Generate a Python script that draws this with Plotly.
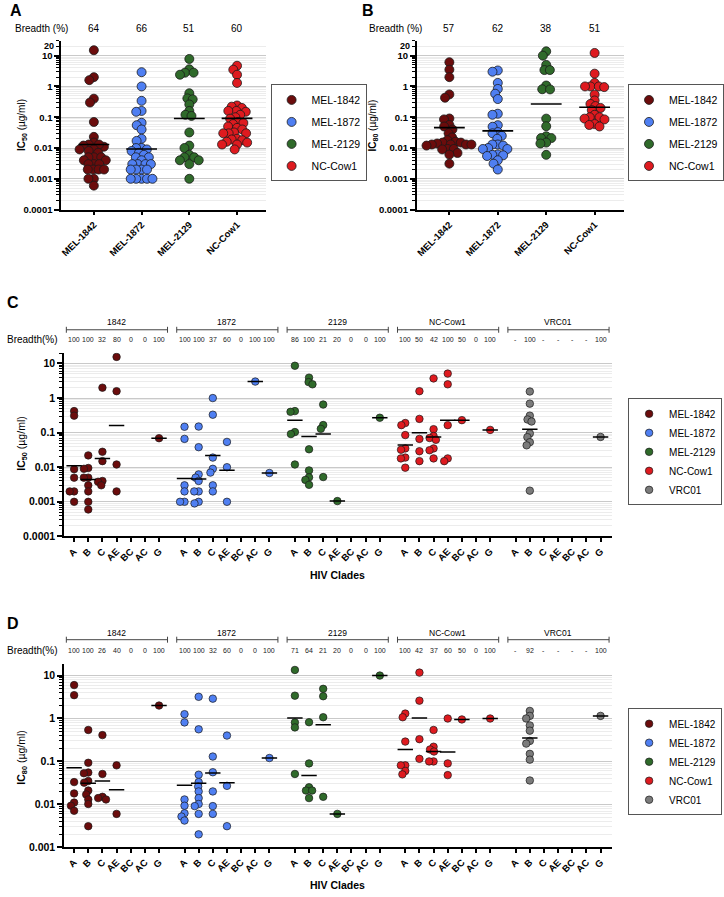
import math
import plotly.graph_objects as go

W, H = 724, 897
FONT = "Liberation Sans, Arial, Helvetica, sans-serif"

# ---------------- data ----------------
ANTIBODIES = ["MEL-1842", "MEL-1872", "MEL-2129", "NC-Cow1"]
ANTIBODIES_CD = ["MEL-1842", "MEL-1872", "MEL-2129", "NC-Cow1", "VRC01"]
GROUP_LABELS = ["1842", "1872", "2129", "NC-Cow1", "VRC01"]
CLADES = ["A", "B", "C", "AE", "BC", "AC", "G"]
COLORS = {"MEL-1842": "#6b0c0c", "MEL-1872": "#4f7ff2", "MEL-2129": "#2f6a2a",
          "NC-Cow1": "#de1a1f", "VRC01": "#7b7b7b"}

BREADTH_A = [64, 66, 51, 60]
BREADTH_B = [57, 62, 38, 51]

# Panel A: IC50 per antibody
A_MEL1842 = [15, 2.0, 1.6, 0.4, 0.3, 0.07, 0.023, 0.015, 0.013, 0.012, 0.011, 0.013, 0.009, 0.008,
             0.009, 0.007, 0.005, 0.005, 0.005, 0.004, 0.004, 0.003, 0.003, 0.003, 0.002, 0.002,
             0.002, 0.002, 0.001, 0.001, 0.0006]
A_MEL1872 = [2.9, 1.0, 0.34, 0.16, 0.15, 0.066, 0.055, 0.04, 0.02, 0.017, 0.01, 0.01, 0.009, 0.008,
             0.007, 0.006, 0.005, 0.005, 0.004, 0.003, 0.003, 0.003, 0.003, 0.002, 0.002, 0.002,
             0.002, 0.001, 0.001, 0.001, 0.001, 0.001]
A_MEL2129 = [7.8, 3.6, 2.8, 2.8, 2.4, 0.6, 0.41, 0.38, 0.26, 0.16, 0.12, 0.11, 0.032, 0.012, 0.01,
             0.006, 0.005, 0.005, 0.004, 0.004, 0.003, 0.001]
A_NCCOW1 = [4.7, 3.5, 2.4, 1.3, 0.24, 0.22, 0.2, 0.16, 0.16, 0.15, 0.12, 0.1, 0.09, 0.07, 0.065,
            0.06, 0.05, 0.045, 0.04, 0.032, 0.03, 0.03, 0.03, 0.02, 0.019, 0.018, 0.016, 0.015,
            0.013, 0.013, 0.009]
A_MEDIANS = [0.013, 0.0093, 0.091, 0.092]

# Panel B: IC80 per antibody
B_MEL1842 = [6.1, 3.5, 2.0, 0.55, 0.43, 0.091, 0.085, 0.056, 0.05, 0.04, 0.03, 0.022, 0.018, 0.016,
             0.015, 0.015, 0.014, 0.013, 0.013, 0.013, 0.013, 0.012, 0.0093, 0.0093, 0.009, 0.0069,
             0.0061, 0.0031]
B_MEL1872 = [3.3, 3.0, 1.3, 0.83, 0.58, 0.39, 0.13, 0.12, 0.055, 0.049, 0.033, 0.03, 0.025, 0.02,
             0.013, 0.013, 0.012, 0.01, 0.0093, 0.0093, 0.0062, 0.006, 0.0058, 0.0055, 0.004,
             0.0031, 0.002]
B_MEL2129 = [13.8, 10, 5.0, 3.4, 3.4, 1.07, 0.81, 0.8, 0.09, 0.051, 0.024, 0.021, 0.021, 0.015,
             0.014, 0.006]
B_NCCOW1 = [12.2, 2.6, 1.3, 1.0, 1.0, 1.0, 0.95, 0.54, 0.35, 0.27, 0.23, 0.2, 0.17, 0.12, 0.1, 0.1,
            0.09, 0.085, 0.06, 0.056, 0.05]
B_MEDIANS = [0.046, 0.036, 0.27, 0.21]

# Panel C: IC50 by clade
C_MEL1842 = {"A": [0.42, 0.31, 0.0088, 0.005, 0.002, 0.002, 0.001],
             "B": [0.022, 0.0095, 0.009, 0.005, 0.005, 0.003, 0.002, 0.001, 0.0006],
             "C": [2.0, 0.028, 0.015, 0.004, 0.0038, 0.003],
             "AE": [15.5, 1.58, 0.012, 0.002], "BC": [], "AC": [], "G": [0.069]}
C_MEL1872 = {"A": [0.148, 0.066, 0.003, 0.002, 0.001, 0.001],
             "B": [0.15, 0.038, 0.0062, 0.005, 0.004, 0.002, 0.002, 0.001, 0.0009],
             "C": [1.0, 0.33, 0.019, 0.009, 0.007, 0.003, 0.002],
             "AE": [0.054, 0.01, 0.001], "BC": [], "AC": [3.0], "G": [0.0068]}
C_MEL2129 = {"A": [8.6, 0.42, 0.40, 0.104, 0.091, 0.012],
             "B": [3.9, 2.9, 2.5, 0.033, 0.0081, 0.0051, 0.0043, 0.0031],
             "C": [0.65, 0.166, 0.129, 0.0052],
             "AE": [0.00105], "BC": [], "AC": [], "G": [0.27]}
C_NCCOW1 = {"A": [0.19, 0.165, 0.085, 0.035, 0.032, 0.019, 0.018, 0.0097],
            "B": [1.58, 0.25, 0.066, 0.029, 0.015],
            "C": [3.7, 0.126, 0.08, 0.07, 0.062, 0.035, 0.031, 0.018],
            "AE": [5.1, 2.5, 0.165, 0.018, 0.015], "BC": [0.23], "AC": [], "G": [0.12]}
C_VRC01 = {"A": [], "B": [1.55, 0.69, 0.31, 0.24, 0.21, 0.095, 0.074, 0.053, 0.043, 0.0021],
           "C": [], "AE": [], "BC": [], "AC": [], "G": [0.075]}
C_MED_MEL1842 = {"A": 0.011, "B": 0.0044, "C": 0.018, "AE": 0.16, "G": 0.069}
C_MED_MEL1872 = {"A": 0.0047, "B": 0.0046, "C": 0.022, "AE": 0.0082, "AC": 3.0, "G": 0.0068}
C_MED_MEL2129 = {"A": 0.23, "B": 0.077, "C": 0.091, "AE": 0.00105, "G": 0.27}
C_MED_NCCOW1 = {"A": 0.044, "B": 0.10, "C": 0.075, "AE": 0.23, "BC": 0.23, "G": 0.12}
C_MED_VRC01 = {"B": 0.126, "G": 0.075}
C_BREADTH_1842 = ["100", "100", "32", "80", "0", "0", "100"]
C_BREADTH_1872 = ["100", "100", "37", "60", "0", "100", "100"]
C_BREADTH_2129 = ["86", "100", "21", "20", "0", "0", "100"]
C_BREADTH_NCCOW1 = ["100", "50", "42", "100", "50", "0", "100"]
C_BREADTH_VRC01 = ["-", "100", "-", "-", "-", "-", "100"]

# Panel D: IC80 by clade
D_MEL1842 = {"A": [6.0, 3.5, 0.033, 0.018, 0.011, 0.0093, 0.0071],
             "B": [0.54, 0.093, 0.055, 0.053, 0.035, 0.032, 0.021, 0.017, 0.013, 0.0102, 0.0031],
             "C": [0.41, 0.051, 0.015, 0.014, 0.013],
             "AE": [0.081, 0.006], "BC": [], "AC": [], "G": [2.0]}
D_MEL1872 = {"A": [1.26, 0.81, 0.013, 0.0093, 0.0062, 0.0052, 0.0042],
             "B": [3.2, 0.56, 0.049, 0.033, 0.026, 0.02, 0.014, 0.0102, 0.0091, 0.006, 0.002],
             "C": [2.9, 0.13, 0.056, 0.02, 0.0091, 0.006],
             "AE": [0.4, 0.027, 0.0031], "BC": [], "AC": [], "G": [0.12]}
D_MEL2129 = {"A": [13.5, 3.4, 0.81, 0.62, 0.051],
             "B": [0.82, 0.09, 0.025, 0.021, 0.021, 0.014],
             "C": [4.9, 3.3, 1.07, 0.015],
             "AE": [0.006], "BC": [], "AC": [], "G": [10.0]}
D_NCCOW1 = {"A": [1.3, 1.07, 0.29, 0.081, 0.081, 0.06, 0.05],
            "B": [11.7, 2.6, 0.33, 0.115],
            "C": [0.54, 0.22, 0.19, 0.17, 0.10, 0.10],
            "AE": [1.0, 0.09, 0.048], "BC": [0.95], "AC": [], "G": [1.0]}
D_VRC01 = {"A": [], "B": [1.5, 1.15, 1.0, 0.69, 0.52, 0.30, 0.26, 0.15, 0.11, 0.036],
           "C": [], "AE": [], "BC": [], "AC": [], "G": [1.15]}
D_MED_MEL1842 = {"A": 0.071, "B": 0.031, "C": 0.035, "AE": 0.022, "G": 2.0}
D_MED_MEL1872 = {"A": 0.028, "B": 0.031, "C": 0.054, "AE": 0.032, "G": 0.12}
D_MED_MEL2129 = {"A": 1.03, "B": 0.047, "C": 0.71, "AE": 0.006, "G": 10.0}
D_MED_NCCOW1 = {"A": 0.19, "B": 1.03, "C": 0.17, "AE": 0.165, "BC": 0.95, "G": 1.0}
D_MED_VRC01 = {"B": 0.35, "G": 1.15}
D_BREADTH_1842 = ["100", "100", "26", "40", "0", "0", "100"]
D_BREADTH_1872 = ["100", "100", "32", "60", "0", "0", "100"]
D_BREADTH_2129 = ["71", "64", "21", "20", "0", "0", "100"]
D_BREADTH_NCCOW1 = ["100", "42", "37", "60", "50", "0", "100"]
D_BREADTH_VRC01 = ["-", "92", "-", "-", "-", "-", "100"]

# ---------------- layout helpers ----------------
def px(x):
    return x / W


def py(y):
    return 1 - y / H


def swarm(vals, pxdec, pxunit, diam):
    """Beeswarm x-offsets (in data units) for values on a log axis."""
    ys = [math.log10(v) * pxdec for v in vals]
    order = sorted(range(len(vals)), key=lambda i: -ys[i])
    placed = []
    xs = [0.0] * len(vals)
    for i in order:
        y = ys[i]
        cands = [0.0]
        for (qx, qy) in placed:
            dy = abs(qy - y)
            if dy < diam:
                dx = math.sqrt(diam ** 2 - dy ** 2)
                cands += [qx + dx, qx - dx]
        cands.sort(key=lambda c: (round(abs(c), 6), c))
        for c in cands:
            if all((c - qx) ** 2 + (y - qy) ** 2 >= diam ** 2 - 1e-6 for qx, qy in placed):
                xs[i] = c
                break
        placed.append((xs[i], y))
    return [x / pxunit for x in xs]


def minor_vals(lo, hi):
    out = []
    for e in range(lo, hi + 1):
        for m in range(2, 10):
            out.append(m * 10 ** e)
    return out


fig = go.Figure()
annotations = []
shapes = []

MAJOR_GRID = "#c9c9c9"
MINOR_GRID = "#ececec"


def yaxis_cfg(domain, rng, tickvals, ticktext, tfs):
    return dict(type="log", domain=domain, range=rng, tickmode="array", tickvals=tickvals,
                ticktext=["<b>%s</b>" % t for t in ticktext], tickfont=dict(size=tfs, family=FONT, color="black"),
                showline=True, linecolor="black", linewidth=1.8, ticks="outside", ticklen=5, tickwidth=1.5,
                tickcolor="black", showgrid=True, gridcolor=MAJOR_GRID, gridwidth=1.4, zeroline=False,
                minor=dict(tickmode="array", tickvals=minor_vals(-4, 1), ticks="outside", ticklen=3,
                           tickwidth=1, tickcolor="black", showgrid=True, gridcolor=MINOR_GRID, gridwidth=0.6),
                fixedrange=True)


def xaxis_cfg(domain, rng, tickvals, ticktext, anchor, tfs):
    return dict(domain=domain, range=rng, tickmode="array", tickvals=tickvals,
                ticktext=["<b>%s</b>" % t for t in ticktext], tickangle=-45,
                tickfont=dict(size=tfs, family=FONT, color="black"), showline=True, linecolor="black",
                linewidth=1.8, ticks="outside", ticklen=4, tickwidth=1.5, tickcolor="black", showgrid=False,
                zeroline=False, anchor=anchor, fixedrange=True)


# ---------------- panels A and B ----------------
def panel_ab(series, medians, xa, ya, legend, pxunit):
    for i, (name, vals) in enumerate(zip(ANTIBODIES, series)):
        offs = swarm(vals, 31.0, pxunit, 5.5)
        fig.add_trace(go.Scatter(
            x=[i + o for o in offs], y=vals, mode="markers", name=name, xaxis=xa, yaxis=ya,
            legend=legend, legendgroup=legend + name,
            marker=dict(size=9, color=COLORS[name], line=dict(color="#1a1a1a", width=0.8))))
    fig.add_trace(go.Scatter(
        x=list(range(len(medians))), y=medians, mode="markers", xaxis=xa, yaxis=ya, showlegend=False,
        marker=dict(symbol="line-ew", size=22, color="black", line=dict(color="black", width=1.6))))


panel_ab([A_MEL1842, A_MEL1872, A_MEL2129, A_NCCOW1], A_MEDIANS, "x", "y", "legend", 48.3)
panel_ab([B_MEL1842, B_MEL1872, B_MEL2129, B_NCCOW1], B_MEDIANS, "x2", "y2", "legend2", 49.0)

AB_TICKS = [0.0001, 0.001, 0.01, 0.1, 1, 10]
AB_TEXT = ["0.0001", "0.001", "0.01", "0.1", "1", "10"]
ydomAB = [py(211), py(41)]
layout = dict(
    xaxis=xaxis_cfg([px(60), px(267)], [-0.683, 3.6], [0, 1, 2, 3], ANTIBODIES, "y", 9.5),
    yaxis=yaxis_cfg(ydomAB, [-4, 1.484], AB_TICKS, AB_TEXT, 9.5),
    xaxis2=xaxis_cfg([px(420), px(630)], [-0.673, 3.61], [0, 1, 2, 3], ANTIBODIES, "y2", 9.5),
    yaxis2=yaxis_cfg(ydomAB, [-4, 1.484], AB_TICKS, AB_TEXT, 9.5),
)
layout["yaxis2"]["anchor"] = "x2"
layout["yaxis"]["anchor"] = "x"

for xa, ya, breadth, xleft, letter, lx, title in [
        ("x", "y", BREADTH_A, 11, "A", 8, "<b>IC<sub>50</sub></b> (µg/ml)"),
        ("x2", "y2", BREADTH_B, 370, "B", 364, "<b>IC<sub>80</sub></b> (µg/ml)")]:
    annotations.append(dict(text="Breadth (%)", x=px(xleft), y=py(29), xref="paper", yref="paper",
                            xanchor="left", yanchor="middle", showarrow=False,
                            font=dict(size=10, family=FONT, color="black")))
    for i, b in enumerate(breadth):
        annotations.append(dict(text=str(b), x=i, y=py(29), xref=xa, yref="paper", showarrow=False,
                                xanchor="center", yanchor="middle", font=dict(size=10, family=FONT, color="black")))
    annotations.append(dict(text="<b>%s</b>" % letter, x=px(lx - 2), y=py(11), xref="paper", yref="paper",
                            xanchor="left", yanchor="middle", showarrow=False,
                            font=dict(size=16, family=FONT, color="black")))
    annotations.append(dict(text="<b>20</b>", x=-0.683 if xa == "x" else -0.673, xshift=-5, y=math.log10(20),
                            xref=xa, yref=ya, xanchor="right", yanchor="middle", showarrow=False,
                            font=dict(size=9, family=FONT, color="black")))
    annotations.append(dict(text=title, x=px(lx + 12), y=py(126), xref="paper", yref="paper",
                            xanchor="center", yanchor="middle", textangle=-90, showarrow=False,
                            font=dict(size=10, family=FONT, color="black")))

# ---------------- panels C and D ----------------
GROUP_STEP = 7.8
CD_TICKVALS = [g * GROUP_STEP + c for g in range(5) for c in range(len(CLADES))]
CD_TICKTEXT = CLADES * 5


def panel_cd(series, medians, breadths, xa, ya, legend, pxdec, y_grp, y_brk, y_br):
    mx, my = [], []
    for g, (name, data, med) in enumerate(zip(ANTIBODIES_CD, series, medians)):
        xs, ys = [], []
        for c, clade in enumerate(CLADES):
            vals = data[clade]
            if not vals:
                continue
            offs = swarm(vals, pxdec, 14.33, 4.5)
            xs += [g * GROUP_STEP + c + o for o in offs]
            ys += vals
            if clade in med:
                mx.append(g * GROUP_STEP + c)
                my.append(med[clade])
        fig.add_trace(go.Scatter(
            x=xs, y=ys, mode="markers", name=name, xaxis=xa, yaxis=ya, legend=legend,
            legendgroup=legend + name,
            marker=dict(size=7.5, color=COLORS[name], line=dict(color="#1a1a1a", width=0.7))))
    fig.add_trace(go.Scatter(
        x=mx, y=my, mode="markers", xaxis=xa, yaxis=ya, showlegend=False,
        marker=dict(symbol="line-ew", size=11, color="black", line=dict(color="black", width=1.5))))
    # headers
    for g, (lab, br) in enumerate(zip(GROUP_LABELS, breadths)):
        x0 = g * GROUP_STEP - 0.55
        x1 = g * GROUP_STEP + 6.6
        shapes.append(dict(type="line", xref=xa, yref="paper", x0=x0, x1=x1, y0=py(y_brk), y1=py(y_brk),
                           line=dict(color="#444", width=1)))
        for xe in (x0, x1):
            shapes.append(dict(type="line", xref=xa, yref="paper", x0=xe, x1=xe, y0=py(y_brk - 3),
                               y1=py(y_brk + 3), line=dict(color="#444", width=1)))
        annotations.append(dict(text=lab, x=g * GROUP_STEP + 3, y=py(y_grp), xref=xa, yref="paper",
                                showarrow=False, xanchor="center", yanchor="middle",
                                font=dict(size=8.5, family=FONT, color="black")))
        for c, t in enumerate(br):
            annotations.append(dict(text=t, x=g * GROUP_STEP + c, y=py(y_br), xref=xa, yref="paper",
                                    showarrow=False, xanchor="center", yanchor="middle",
                                    font=dict(size=7, family=FONT, color="#222")))
    annotations.append(dict(text="Breadth(%)", x=px(3), y=py(y_br), xref="paper", yref="paper",
                            showarrow=False, xanchor="left", yanchor="middle",
                            font=dict(size=10, family=FONT, color="black")))


panel_cd([C_MEL1842, C_MEL1872, C_MEL2129, C_NCCOW1, C_VRC01],
         [C_MED_MEL1842, C_MED_MEL1872, C_MED_MEL2129, C_MED_NCCOW1, C_MED_VRC01],
         [C_BREADTH_1842, C_BREADTH_1872, C_BREADTH_2129, C_BREADTH_NCCOW1, C_BREADTH_VRC01],
         "x3", "y3", "legend3", 34.8, 324, 332, 342)
panel_cd([D_MEL1842, D_MEL1872, D_MEL2129, D_NCCOW1, D_VRC01],
         [D_MED_MEL1842, D_MED_MEL1872, D_MED_MEL2129, D_MED_NCCOW1, D_MED_VRC01],
         [D_BREADTH_1842, D_BREADTH_1872, D_BREADTH_2129, D_BREADTH_NCCOW1, D_BREADTH_VRC01],
         "x4", "y4", "legend4", 43.2, 637, 644, 655)

xdomCD = [px(63), px(618)]
layout["xaxis3"] = xaxis_cfg(xdomCD, [-0.7, 38.03], CD_TICKVALS, CD_TICKTEXT, "y3", 9.5)
layout["yaxis3"] = yaxis_cfg([py(540), py(355)], [-4, 1.314], AB_TICKS, AB_TEXT, 10.5)
layout["yaxis3"]["anchor"] = "x3"
layout["xaxis4"] = xaxis_cfg(xdomCD, [-0.7, 38.03], CD_TICKVALS, CD_TICKTEXT, "y4", 9.5)
layout["yaxis4"] = yaxis_cfg([py(853), py(668)], [-3, 1.28], [0.001, 0.01, 0.1, 1, 10],
                             ["0.001", "0.01", "0.1", "1", "10"], 10.5)
layout["yaxis4"]["anchor"] = "x4"

for letter, ly, ty, title, cy in [("C", 305, 447, "<b>IC<sub>50</sub></b> (µg/ml)", 579),
                                  ("D", 628, 763, "<b>IC<sub>80</sub></b> (µg/ml)", 891)]:
    annotations.append(dict(text="<b>%s</b>" % letter, x=px(3), y=py(ly), xref="paper", yref="paper",
                            xanchor="left", yanchor="middle", showarrow=False,
                            font=dict(size=16, family=FONT, color="black")))
    annotations.append(dict(text=title, x=px(20), y=py(ty), xref="paper", yref="paper",
                            xanchor="center", yanchor="middle", textangle=-90, showarrow=False,
                            font=dict(size=10.5, family=FONT, color="black")))
    annotations.append(dict(text="<b>HIV Clades</b>", x=px(340), y=py(cy), xref="paper", yref="paper",
                            xanchor="center", yanchor="middle", showarrow=False,
                            font=dict(size=10.5, family=FONT, color="black")))


def legend_cfg(x, y, fs, gap):
    return dict(x=px(x), y=py(y), xanchor="left", yanchor="top", bordercolor="#555", borderwidth=1,
                bgcolor="white", font=dict(size=fs, family=FONT, color="black"), itemwidth=30,
                tracegroupgap=gap, itemclick=False, itemdoubleclick=False)


layout.update(
    width=W, height=H, margin=dict(l=0, r=0, t=0, b=0), paper_bgcolor="white", plot_bgcolor="white",
    font=dict(family=FONT, color="black"), showlegend=True,
    legend=legend_cfg(272, 85, 10.5, 3),
    legend2=legend_cfg(634, 85, 10.5, 3),
    legend3=legend_cfg(634, 401, 10, 0),
    legend4=legend_cfg(634, 713, 10, 0),
    annotations=annotations, shapes=shapes,
)
fig.update_layout(**layout)
fig.write_html("out.html", config={"displayModeBar": False},
               post_script="document.body.style.margin='0px';document.body.style.overflow='hidden';")
